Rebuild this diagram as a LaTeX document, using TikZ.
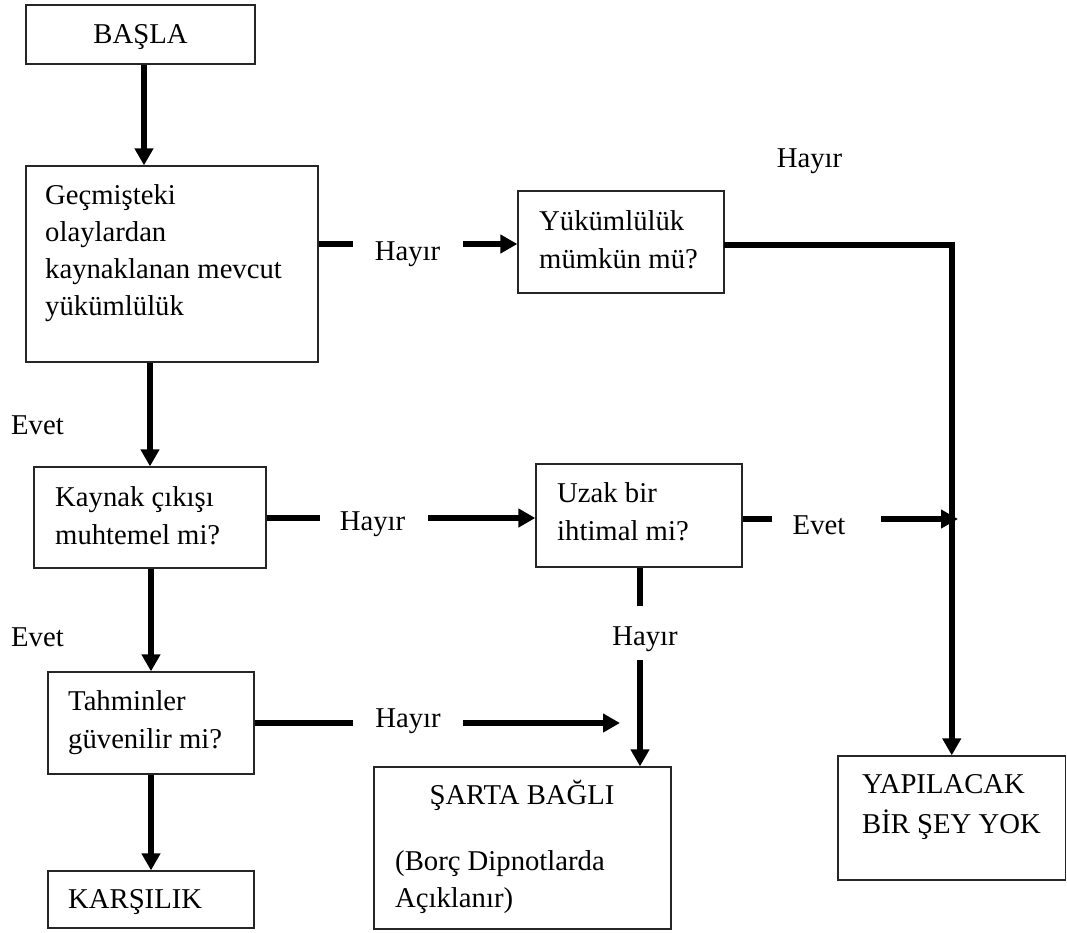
\documentclass[tikz,border=0pt]{standalone}
\usepackage{fontspec}
\setmainfont{Liberation Serif}
\usetikzlibrary{arrows.meta}
\newcommand\diagfont{\fontsize{28.7pt}{37pt}\selectfont}
\begin{document}
\begin{tikzpicture}[x=1pt,y=-1pt,
  box/.style={draw=black!85, line width=1.3pt, inner sep=0pt},
  txt/.style={anchor=base west, inner sep=0pt, font=\diagfont},
  ctxt/.style={anchor=base, inner sep=0pt, font=\diagfont},
  conn/.style={line width=5.5pt},
  arr/.style={conn, -{Triangle[width=18pt,length=17pt]}}]
\useasboundingbox (0,0) rectangle (1067,932);

% boxes
\node[box, minimum width=229pt, minimum height=59pt]  (b)  at (140.5,34.5) {};
\node[box, minimum width=292pt, minimum height=196pt] (g)  at (172,264) {};
\node[box, minimum width=206pt, minimum height=102pt] (yk) at (621,242) {};
\node[box, minimum width=232pt, minimum height=101pt] (k)  at (150,517.5) {};
\node[box, minimum width=206pt, minimum height=103pt] (uz) at (639,515.5) {};
\node[box, minimum width=206pt, minimum height=102pt] (th) at (151,723) {};
\node[box, minimum width=206pt, minimum height=57pt]  (kr) at (151,899.5) {};
\node[box, minimum width=297pt, minimum height=162pt] (sb) at (522.5,848) {};
\node[box, minimum width=227.5pt, minimum height=124pt] (yp) at (951.75,818) {};

% box texts
\node[ctxt] (bT) at (140.5,43) {BAŞLA};
\node[txt] (gT) at (45,204) {\vtop{\baselineskip=37pt\hbox{Geçmişteki}\hbox{olaylardan}\hbox{kaynaklanan mevcut}\hbox{yükümlülük}}};
\node[txt] (ykT) at (539,230) {\vtop{\baselineskip=38pt\hbox{Yükümlülük}\hbox{mümkün mü?}}};
\node[txt] (kT) at (55,506) {\vtop{\baselineskip=38pt\hbox{Kaynak çıkışı}\hbox{muhtemel mi?}}};
\node[txt] (uzT) at (557,502) {\vtop{\baselineskip=38pt\hbox{Uzak bir}\hbox{ihtimal mi?}}};
\node[txt] (thT) at (68,710) {\vtop{\baselineskip=38pt\hbox{Tahminler}\hbox{güvenilir mi?}}};
\node[txt] (krT) at (68,908) {KARŞILIK};
\node[ctxt] (sbT) at (522,804) {ŞARTA BAĞLI};
\node[txt] (sbN) at (395,870) {\vtop{\baselineskip=37pt\hbox{(Borç Dipnotlarda}\hbox{Açıklanır)}}};
\node[txt] (ypT) at (862,793) {\vtop{\baselineskip=40pt\hbox{YAPILACAK}\hbox{BİR ŞEY YOK}}};

% connector labels
\node[ctxt] (h1) at (407.5,260) {Hayır};
\node[ctxt] (h2) at (809.5,167) {Hayır};
\node[txt]  (e1) at (11,434) {Evet};
\node[ctxt] (h3) at (372.5,530) {Hayır};
\node[ctxt] (e2) at (819,534) {Evet};
\node[txt]  (e3) at (11,646) {Evet};
\node[ctxt] (h4) at (645,645) {Hayır};
\node[ctxt] (h5) at (408,727) {Hayır};

% break points of the labelled connectors
\coordinate (c1a) at (353,244);
\coordinate (c1b) at (463,244);
\coordinate (c3a) at (320,518);
\coordinate (c3b) at (428,518);
\coordinate (c5a) at (772,519);
\coordinate (c5b) at (881,519);
\coordinate (c5c) at (958,519);
\coordinate (c7a) at (640,606);
\coordinate (c7b) at (640,660);
\coordinate (c8a) at (353,723);
\coordinate (c8b) at (463,723);
\coordinate (c8c) at (620,723);
\coordinate (c9)  at (724,245);

% vertical flow on the left
\draw[arr] ([xshift=3.5pt]b.south) -- ([xshift=3.5pt]b.south |- g.north);
\draw[arr] (g.south -| k.north) -- (k.north);
\draw[arr] (k.south -| th.north) -- (th.north);
\draw[arr] (th.south) -- (kr.north);

% Geçmişteki -> Yükümlülük
\draw[conn] (g.east |- c1a) -- (c1a);
\draw[arr] (c1b) -- (yk.west |- c1b);

% Yükümlülük -> YAPILACAK
\draw[arr, line join=miter] (c9) -| (yp.north);

% Kaynak -> Uzak
\draw[conn] (k.east |- c3a) -- (c3a);
\draw[arr] (c3b) -- (uz.west |- c3b);

% Uzak -> vertical line
\draw[conn] (uz.east |- c5a) -- (c5a);
\draw[arr] (c5b) -- (c5c);

% Uzak -> ŞARTA
\draw[conn] (uz.south -| c7a) -- (c7a);
\draw[arr] (c7b) -- (sb.north -| c7b);

% Tahminler -> ŞARTA
\draw[conn] (th.east |- c8a) -- (c8a);
\draw[arr] (c8b) -- (c8c);
\end{tikzpicture}
\end{document}
